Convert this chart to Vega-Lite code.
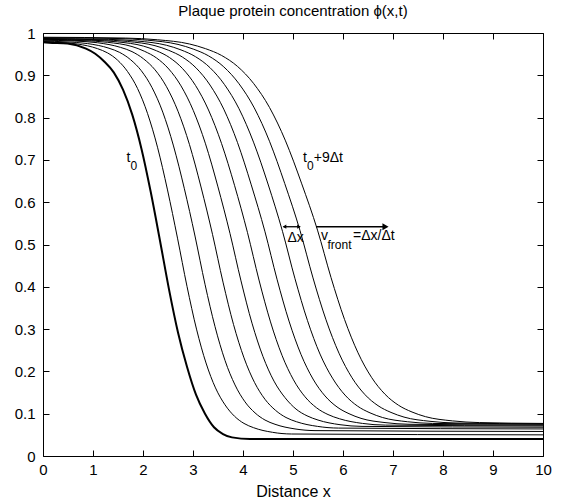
{
  "$schema": "https://vega.github.io/schema/vega-lite/v6.json",
  "width": 500,
  "height": 423,
  "autosize": {"type": "none"},
  "padding": {"left": 43, "top": 33, "right": 40, "bottom": 48},
  "background": "white",
  "title": {"text": "Plaque protein concentration ϕ(x,t)", "fontSize": 15, "fontWeight": "normal", "font": "Liberation Sans", "color": "black", "offset": 7},
  "config": {
    "view": {"stroke": "black", "strokeWidth": 1},
    "axis": {"domain": false, "ticks": true, "tickColor": "black", "tickOpacity": 1, "labelColor": "black", "titleColor": "black", "labelFont": "Liberation Sans", "titleFont": "Liberation Sans", "labelFontSize": 15, "titleFontSize": 16, "titleFontWeight": "normal", "grid": false, "tickSize": 6, "offset": -6, "tickWidth": 1, "zindex": 1}
  },
  "datasets": {
    "curves": [
      {"k":0,"x":0,"y":0.978},{"k":0,"x":0.12,"y":0.977},{"k":0,"x":0.49,"y":0.975},{"k":0,"x":0.86,"y":0.963},{"k":0,"x":1.045,"y":0.951},{"k":0,"x":1.23,"y":0.932},{"k":0,"x":1.415,"y":0.907},{"k":0,"x":1.60,"y":0.866},{"k":0,"x":1.785,"y":0.807},{"k":0,"x":1.97,"y":0.726},{"k":0,"x":2.155,"y":0.624},{"k":0,"x":2.34,"y":0.509},{"k":0,"x":2.52,"y":0.394},{"k":0,"x":2.70,"y":0.292},{"k":0,"x":2.88,"y":0.211},{"k":0,"x":3.06,"y":0.145},{"k":0,"x":3.24,"y":0.100},{"k":0,"x":3.42,"y":0.068},{"k":0,"x":3.60,"y":0.052},{"k":0,"x":3.78,"y":0.044},{"k":0,"x":4.14,"y":0.040},{"k":0,"x":10,"y":0.040},
      {"k":1,"x":0,"y":0.980},{"k":1,"x":0.29,"y":0.978},{"k":1,"x":0.69,"y":0.974},{"k":1,"x":1.09,"y":0.963},{"k":1,"x":1.29,"y":0.953},{"k":1,"x":1.49,"y":0.936},{"k":1,"x":1.69,"y":0.909},{"k":1,"x":1.89,"y":0.869},{"k":1,"x":2.09,"y":0.810},{"k":1,"x":2.29,"y":0.730},{"k":1,"x":2.49,"y":0.629},{"k":1,"x":2.69,"y":0.515},{"k":1,"x":2.88,"y":0.401},{"k":1,"x":3.07,"y":0.300},{"k":1,"x":3.26,"y":0.220},{"k":1,"x":3.45,"y":0.161},{"k":1,"x":3.64,"y":0.121},{"k":1,"x":3.83,"y":0.094},{"k":1,"x":4.02,"y":0.077},{"k":1,"x":4.21,"y":0.067},{"k":1,"x":4.59,"y":0.056},{"k":1,"x":4.97,"y":0.052},{"k":1,"x":10,"y":0.050},
      {"k":2,"x":0,"y":0.981},{"k":2,"x":0.46,"y":0.979},{"k":2,"x":0.89,"y":0.975},{"k":2,"x":1.32,"y":0.964},{"k":2,"x":1.535,"y":0.954},{"k":2,"x":1.75,"y":0.937},{"k":2,"x":1.965,"y":0.911},{"k":2,"x":2.18,"y":0.871},{"k":2,"x":2.395,"y":0.813},{"k":2,"x":2.61,"y":0.733},{"k":2,"x":2.825,"y":0.633},{"k":2,"x":3.04,"y":0.520},{"k":2,"x":3.24,"y":0.406},{"k":2,"x":3.44,"y":0.306},{"k":2,"x":3.64,"y":0.226},{"k":2,"x":3.84,"y":0.168},{"k":2,"x":4.04,"y":0.128},{"k":2,"x":4.24,"y":0.102},{"k":2,"x":4.44,"y":0.085},{"k":2,"x":4.64,"y":0.075},{"k":2,"x":5.04,"y":0.064},{"k":2,"x":5.44,"y":0.060},{"k":2,"x":10,"y":0.058},
      {"k":3,"x":0,"y":0.983},{"k":3,"x":0.63,"y":0.981},{"k":3,"x":1.09,"y":0.977},{"k":3,"x":1.55,"y":0.966},{"k":3,"x":1.78,"y":0.956},{"k":3,"x":2.01,"y":0.939},{"k":3,"x":2.24,"y":0.913},{"k":3,"x":2.47,"y":0.873},{"k":3,"x":2.70,"y":0.815},{"k":3,"x":2.93,"y":0.736},{"k":3,"x":3.16,"y":0.636},{"k":3,"x":3.39,"y":0.524},{"k":3,"x":3.60,"y":0.411},{"k":3,"x":3.81,"y":0.311},{"k":3,"x":4.02,"y":0.232},{"k":3,"x":4.23,"y":0.174},{"k":3,"x":4.44,"y":0.134},{"k":3,"x":4.65,"y":0.108},{"k":3,"x":4.86,"y":0.091},{"k":3,"x":5.07,"y":0.081},{"k":3,"x":5.49,"y":0.070},{"k":3,"x":5.91,"y":0.066},{"k":3,"x":10,"y":0.064},
      {"k":4,"x":0,"y":0.984},{"k":4,"x":0.80,"y":0.982},{"k":4,"x":1.29,"y":0.978},{"k":4,"x":1.78,"y":0.968},{"k":4,"x":2.025,"y":0.957},{"k":4,"x":2.27,"y":0.941},{"k":4,"x":2.515,"y":0.915},{"k":4,"x":2.76,"y":0.875},{"k":4,"x":3.005,"y":0.817},{"k":4,"x":3.25,"y":0.738},{"k":4,"x":3.495,"y":0.638},{"k":4,"x":3.74,"y":0.526},{"k":4,"x":3.96,"y":0.414},{"k":4,"x":4.18,"y":0.314},{"k":4,"x":4.40,"y":0.235},{"k":4,"x":4.62,"y":0.177},{"k":4,"x":4.84,"y":0.138},{"k":4,"x":5.06,"y":0.111},{"k":4,"x":5.28,"y":0.095},{"k":4,"x":5.50,"y":0.085},{"k":4,"x":5.94,"y":0.074},{"k":4,"x":6.38,"y":0.070},{"k":4,"x":10,"y":0.068},
      {"k":5,"x":0,"y":0.985},{"k":5,"x":0.97,"y":0.983},{"k":5,"x":1.49,"y":0.979},{"k":5,"x":2.01,"y":0.969},{"k":5,"x":2.27,"y":0.958},{"k":5,"x":2.53,"y":0.942},{"k":5,"x":2.79,"y":0.916},{"k":5,"x":3.05,"y":0.876},{"k":5,"x":3.31,"y":0.818},{"k":5,"x":3.57,"y":0.739},{"k":5,"x":3.83,"y":0.640},{"k":5,"x":4.09,"y":0.528},{"k":5,"x":4.32,"y":0.416},{"k":5,"x":4.55,"y":0.317},{"k":5,"x":4.78,"y":0.238},{"k":5,"x":5.01,"y":0.180},{"k":5,"x":5.24,"y":0.140},{"k":5,"x":5.47,"y":0.114},{"k":5,"x":5.70,"y":0.098},{"k":5,"x":5.93,"y":0.088},{"k":5,"x":6.39,"y":0.077},{"k":5,"x":6.85,"y":0.073},{"k":5,"x":10,"y":0.071},
      {"k":6,"x":0,"y":0.986},{"k":6,"x":1.14,"y":0.984},{"k":6,"x":1.69,"y":0.980},{"k":6,"x":2.24,"y":0.970},{"k":6,"x":2.515,"y":0.959},{"k":6,"x":2.79,"y":0.943},{"k":6,"x":3.065,"y":0.917},{"k":6,"x":3.34,"y":0.877},{"k":6,"x":3.615,"y":0.820},{"k":6,"x":3.89,"y":0.741},{"k":6,"x":4.165,"y":0.641},{"k":6,"x":4.44,"y":0.530},{"k":6,"x":4.68,"y":0.418},{"k":6,"x":4.92,"y":0.319},{"k":6,"x":5.16,"y":0.240},{"k":6,"x":5.40,"y":0.182},{"k":6,"x":5.64,"y":0.142},{"k":6,"x":5.88,"y":0.116},{"k":6,"x":6.12,"y":0.100},{"k":6,"x":6.36,"y":0.089},{"k":6,"x":6.84,"y":0.079},{"k":6,"x":7.32,"y":0.075},{"k":6,"x":10,"y":0.073},
      {"k":7,"x":0,"y":0.987},{"k":7,"x":1.31,"y":0.985},{"k":7,"x":1.89,"y":0.981},{"k":7,"x":2.47,"y":0.971},{"k":7,"x":2.76,"y":0.960},{"k":7,"x":3.05,"y":0.944},{"k":7,"x":3.34,"y":0.918},{"k":7,"x":3.63,"y":0.878},{"k":7,"x":3.92,"y":0.821},{"k":7,"x":4.21,"y":0.742},{"k":7,"x":4.50,"y":0.643},{"k":7,"x":4.79,"y":0.531},{"k":7,"x":5.04,"y":0.419},{"k":7,"x":5.29,"y":0.320},{"k":7,"x":5.54,"y":0.241},{"k":7,"x":5.79,"y":0.184},{"k":7,"x":6.04,"y":0.144},{"k":7,"x":6.29,"y":0.118},{"k":7,"x":6.54,"y":0.102},{"k":7,"x":6.79,"y":0.091},{"k":7,"x":7.29,"y":0.081},{"k":7,"x":7.79,"y":0.077},{"k":7,"x":10,"y":0.075},
      {"k":8,"x":0,"y":0.989},{"k":8,"x":1.48,"y":0.987},{"k":8,"x":2.09,"y":0.983},{"k":8,"x":2.70,"y":0.973},{"k":8,"x":3.005,"y":0.962},{"k":8,"x":3.31,"y":0.946},{"k":8,"x":3.615,"y":0.920},{"k":8,"x":3.92,"y":0.880},{"k":8,"x":4.225,"y":0.823},{"k":8,"x":4.53,"y":0.744},{"k":8,"x":4.835,"y":0.644},{"k":8,"x":5.14,"y":0.533},{"k":8,"x":5.40,"y":0.421},{"k":8,"x":5.66,"y":0.322},{"k":8,"x":5.92,"y":0.243},{"k":8,"x":6.18,"y":0.185},{"k":8,"x":6.44,"y":0.145},{"k":8,"x":6.70,"y":0.119},{"k":8,"x":6.96,"y":0.103},{"k":8,"x":7.22,"y":0.092},{"k":8,"x":7.74,"y":0.082},{"k":8,"x":8.26,"y":0.078},{"k":8,"x":10,"y":0.076},
      {"k":9,"x":0,"y":0.990},{"k":9,"x":1.65,"y":0.988},{"k":9,"x":2.29,"y":0.984},{"k":9,"x":2.93,"y":0.974},{"k":9,"x":3.25,"y":0.963},{"k":9,"x":3.57,"y":0.947},{"k":9,"x":3.89,"y":0.921},{"k":9,"x":4.21,"y":0.881},{"k":9,"x":4.53,"y":0.824},{"k":9,"x":4.85,"y":0.745},{"k":9,"x":5.17,"y":0.645},{"k":9,"x":5.49,"y":0.534},{"k":9,"x":5.76,"y":0.422},{"k":9,"x":6.03,"y":0.323},{"k":9,"x":6.30,"y":0.244},{"k":9,"x":6.57,"y":0.186},{"k":9,"x":6.84,"y":0.146},{"k":9,"x":7.11,"y":0.120},{"k":9,"x":7.38,"y":0.104},{"k":9,"x":7.65,"y":0.093},{"k":9,"x":8.19,"y":0.083},{"k":9,"x":8.73,"y":0.079},{"k":9,"x":10,"y":0.077}
    ],
    "labels": [
      {"x":1.67,"y":0.705,"t":"t"},
      {"x":5.2,"y":0.705,"t":"t"},
      {"x":5.415,"y":0.705,"t":"+9Δt"},
      {"x":4.89,"y":0.515,"t":"Δx"},
      {"x":5.56,"y":0.52,"t":"v"},
      {"x":6.2,"y":0.52,"t":"=Δx/Δt"}
    ],
    "subs": [
      {"x":1.75,"y":0.685,"t":"0"},
      {"x":5.28,"y":0.685,"t":"0"},
      {"x":5.69,"y":0.498,"t":"front"}
    ],
    "arrows": [
      {"a":"v","x":5.46,"y":0.542},{"a":"v","x":6.85,"y":0.542},
      {"a":"d","x":4.81,"y":0.542},{"a":"d","x":5.14,"y":0.542}
    ],
    "heads": [
      {"a":"v","dir":"r","x":6.85,"y":0.542},
      {"a":"d","dir":"l","x":4.83,"y":0.542},
      {"a":"d","dir":"r","x":5.12,"y":0.542}
    ]
  },
  "resolve": {"axis": {"x": "independent", "y": "independent"}},
  "layer": [
    {
      "data": {"name": "curves"},
      "transform": [{"filter": "datum.k > 0"}],
      "mark": {"type": "line", "color": "black", "strokeWidth": 1, "interpolate": "monotone"},
      "encoding": {
        "x": {"field": "x", "type": "quantitative", "scale": {"domain": [0, 10], "nice": false}, "axis": {"values": [0,1,2,3,4,5,6,7,8,9,10], "ticks": true, "tickSize": 6, "title": "Distance x", "labelPadding": 6, "titlePadding": 6, "labelFlush": false}},
        "y": {"field": "y", "type": "quantitative", "scale": {"domain": [0, 1], "nice": false}, "axis": {"values": [0,0.1,0.2,0.3,0.4,0.5,0.6,0.7,0.8,0.9,1], "ticks": true, "tickSize": 6, "format": "~g", "title": null, "labelPadding": 8}},
        "detail": {"field": "k", "type": "nominal"}
      }
    },
    {
      "data": {"name": "curves"},
      "transform": [{"filter": "datum.k == 0"}],
      "mark": {"type": "line", "color": "black", "strokeWidth": 2, "interpolate": "monotone"},
      "encoding": {
        "x": {"field": "x", "type": "quantitative", "axis": {"orient": "top", "values": [0,1,2,3,4,5,6,7,8,9,10], "ticks": true, "tickSize": 6, "labels": false, "title": null}},
        "y": {"field": "y", "type": "quantitative", "axis": {"orient": "right", "values": [0,0.1,0.2,0.3,0.4,0.5,0.6,0.7,0.8,0.9,1], "ticks": true, "tickSize": 6, "labels": false, "title": null}}
      }
    },
    {
      "data": {"name": "arrows"},
      "mark": {"type": "line", "color": "black", "strokeWidth": 1.3},
      "encoding": {
        "x": {"field": "x", "type": "quantitative", "axis": null},
        "y": {"field": "y", "type": "quantitative", "axis": null},
        "detail": {"field": "a", "type": "nominal"}
      }
    },
    {
      "data": {"name": "heads"},
      "transform": [{"filter": "datum.a == 'v'"}],
      "mark": {"type": "point", "filled": true, "color": "black", "size": 50, "opacity": 1},
      "encoding": {
        "x": {"field": "x", "type": "quantitative", "axis": null},
        "y": {"field": "y", "type": "quantitative", "axis": null},
        "shape": {"field": "dir", "type": "nominal", "scale": {"domain": ["r", "l"], "range": ["triangle-right", "triangle-left"]}, "legend": null}
      }
    },
    {
      "data": {"name": "heads"},
      "transform": [{"filter": "datum.a == 'd'"}],
      "mark": {"type": "point", "filled": true, "color": "black", "size": 18, "opacity": 1},
      "encoding": {
        "x": {"field": "x", "type": "quantitative", "axis": null},
        "y": {"field": "y", "type": "quantitative", "axis": null},
        "shape": {"field": "dir", "type": "nominal", "scale": {"domain": ["r", "l"], "range": ["triangle-right", "triangle-left"]}, "legend": null}
      }
    },
    {
      "data": {"name": "labels"},
      "mark": {"type": "text", "align": "left", "baseline": "middle", "font": "Liberation Sans", "fontSize": 14, "color": "black"},
      "encoding": {
        "x": {"field": "x", "type": "quantitative", "axis": null},
        "y": {"field": "y", "type": "quantitative", "axis": null},
        "text": {"field": "t", "type": "nominal"}
      }
    },
    {
      "data": {"name": "subs"},
      "mark": {"type": "text", "align": "left", "baseline": "middle", "font": "Liberation Sans", "fontSize": 12, "color": "black"},
      "encoding": {
        "x": {"field": "x", "type": "quantitative", "axis": null},
        "y": {"field": "y", "type": "quantitative", "axis": null},
        "text": {"field": "t", "type": "nominal"}
      }
    }
  ]
}
